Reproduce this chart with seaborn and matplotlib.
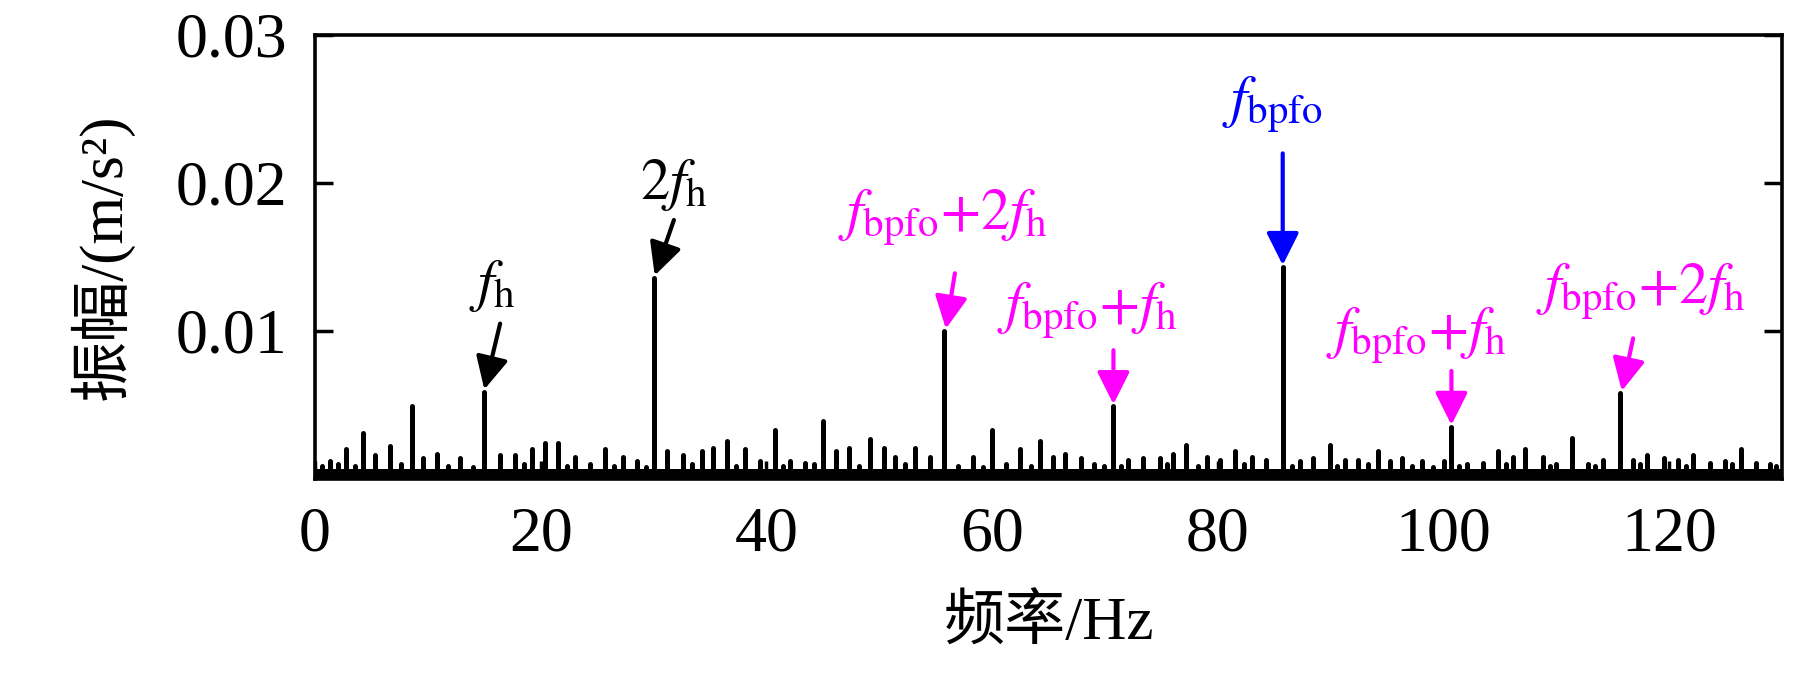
import numpy as np
import pandas as pd
import matplotlib
matplotlib.use("Agg")
import matplotlib.pyplot as plt
import seaborn as sns

# ---------------- data ----------------
major_freq = [15.0, 30.0, 55.75, 70.75, 85.75, 100.7, 115.65]
major_amp = [0.0059, 0.0136, 0.0100, 0.0049, 0.0143, 0.0035, 0.0058]

minor_freq = [1.3, 2.7, 4.25, 5.3, 6.6, 8.6, 9.6, 10.8, 12.85, 16.4, 17.7, 19.2,
              20.4, 21.5, 23.0, 25.7, 27.3, 28.5, 31.2, 32.6, 34.3, 35.3, 36.5,
              38.1, 39.4, 40.8, 42.1, 43.4, 45.0, 46.2, 47.3, 49.2, 50.4, 51.4,
              53.2, 54.5, 58.3, 60.0, 62.5, 64.2, 65.4, 66.5, 67.9, 72.0, 73.4,
              74.9, 76.0, 77.2, 79.0, 80.2, 81.5, 83.0, 84.3, 87.3, 88.4, 89.9,
              91.3, 92.4, 94.2, 95.3, 96.3, 98.1, 100.0, 102.1, 103.5, 104.8,
              106.2, 107.2, 108.8, 110.0, 111.4, 112.8, 114.1, 116.8, 118.0,
              119.5, 120.8, 122.1, 123.6, 124.9, 126.4, 127.7, 128.9]
minor_amp = [0.0012, 0.0020, 0.0031, 0.0016, 0.0022, 0.0049, 0.0014, 0.0017, 0.0014,
             0.0016, 0.0016, 0.0020, 0.0024, 0.0024, 0.0015, 0.0020, 0.0015, 0.0012,
             0.0019, 0.0016, 0.0019, 0.0021, 0.0026, 0.0020, 0.0012, 0.0033, 0.0012,
             0.0011, 0.0039, 0.0019, 0.0021, 0.0027, 0.0021, 0.0015, 0.0021, 0.0015,
             0.0015, 0.0033, 0.0020, 0.0026, 0.0015, 0.0017, 0.0014, 0.0013, 0.0014,
             0.0014, 0.0017, 0.0023, 0.0015, 0.0013, 0.0019, 0.0015, 0.0013, 0.0012,
             0.0014, 0.0023, 0.0013, 0.0013, 0.0019, 0.0012, 0.0014, 0.0012, 0.0012,
             0.0010, 0.0011, 0.0019, 0.0015, 0.0020, 0.0015, 0.0010, 0.0028, 0.0010,
             0.0013, 0.0013, 0.0016, 0.0014, 0.0013, 0.0016, 0.0011, 0.0012, 0.0020,
             0.0011, 0.0010]

tiny_freq = [0.6, 2.0, 3.5, 7.6, 11.8, 14.0, 18.5, 22.3, 24.4, 26.5, 29.3, 33.4,
             37.3, 41.5, 44.2, 48.2, 52.3, 57.0, 59.2, 61.2, 63.4, 69.0, 69.9,
             71.4, 75.5, 78.2, 82.3, 86.6, 90.6, 93.3, 97.2, 99.1, 101.4, 105.5,
             109.4, 113.4, 117.4, 121.5, 125.6, 129.5]
tiny_amp = [0.0009, 0.0010, 0.0009, 0.0010, 0.0009, 0.0008, 0.0010, 0.0009, 0.0010,
            0.0009, 0.0008, 0.0010, 0.0009, 0.0009, 0.0010, 0.0009, 0.0010, 0.0009,
            0.0008, 0.0010, 0.0009, 0.0010, 0.0009, 0.0009, 0.0010, 0.0009, 0.0010,
            0.0009, 0.0009, 0.0010, 0.0009, 0.0008, 0.0009, 0.0010, 0.0009, 0.0009,
            0.0010, 0.0009, 0.0010, 0.0009]

noise_floor = 0.00065
freq_range = [0.0, 130.0]

x_ticks = [0, 20, 40, 60, 80, 100, 120]
x_ticklabels = ["0", "20", "40", "60", "80", "100", "120"]
y_ticks = [0.01, 0.02, 0.03]
y_ticklabels = ["0.01", "0.02", "0.03"]

peak_labels = [r"$f_{\mathrm{h}}$", r"$2f_{\mathrm{h}}$",
               r"$f_{\mathrm{bpfo}}{+}2f_{\mathrm{h}}$",
               r"$f_{\mathrm{bpfo}}{+}f_{\mathrm{h}}$",
               r"$f_{\mathrm{bpfo}}$",
               r"$f_{\mathrm{bpfo}}{+}f_{\mathrm{h}}$",
               r"$f_{\mathrm{bpfo}}{+}2f_{\mathrm{h}}$"]
label_colors = ["black", "black", "#FF00FF", "#FF00FF", "#0000FF", "#FF00FF", "#FF00FF"]

# annotation layout (label centre, arrow tail, arrow tip offset in x)
label_pos = [(15.75, 0.0131), (31.8, 0.0199), (55.6, 0.0177), (68.4, 0.0114),
             (84.85, 0.0253), (97.55, 0.0097), (117.5, 0.0127)]
arrow_tail = [(16.4, 0.0105), (31.8, 0.0175), (56.7, 0.0139), (70.75, 0.0087),
              (85.75, 0.0220), (100.7, 0.0073), (116.8, 0.0095)]
tip_dx = [0.0, 0.1, 0.15, 0.0, 0.0, 0.0, 0.15]
tip_gap = 0.00015

# ---------------- build stem table ----------------
all_f = major_freq + minor_freq + tiny_freq
all_a = major_amp + minor_amp + tiny_amp
rows = []
for i, (f, a) in enumerate(zip(all_f, all_a)):
    rows.append({"freq": f, "amp": 0.0, "unit": i})
    rows.append({"freq": f, "amp": a, "unit": i})
stems = pd.DataFrame(rows)

# ---------------- style ----------------
sns.set_theme(style="ticks")
plt.rcParams["font.family"] = ["Liberation Serif", "Noto Sans CJK SC"]
plt.rcParams["mathtext.fontset"] = "stix"
plt.rcParams["axes.linewidth"] = 2.5

fig = plt.figure(figsize=(18.19, 6.78), dpi=100)
fig.patch.set_facecolor("white")
ax = fig.add_axes([0.1732, 0.2935, 0.9797 - 0.1732, 0.9484 - 0.2935])
ax.set_facecolor("white")

ax.fill_between(freq_range, 0, noise_floor, color="black", lw=0)
sns.lineplot(data=stems, x="freq", y="amp", units="unit", estimator=None,
             color="black", lw=3.6, ax=ax, sort=False, legend=False)

ax.set_xlim(freq_range)
ax.set_ylim(0, 0.03)
ax.set_xticks(x_ticks)
ax.set_xticklabels(x_ticklabels)
ax.set_yticks(y_ticks)
ax.set_yticklabels(y_ticklabels)

ax.tick_params(axis="both", which="major", direction="in", length=13, width=2.5,
               labelsize=46, pad=20, colors="black")
ax.tick_params(axis="y", right=True)
for s in ax.spines.values():
    s.set_visible(True)
    s.set_color("black")
    s.set_linewidth(2.6)

ax.set_xlabel("频率/Hz", fontsize=44, labelpad=22, color="black")
ax.set_ylabel("振幅/(m/s²)", fontsize=44, labelpad=30, color="black")

# ---------------- annotations ----------------
for lab, col, (lx, ly), (tx, ty), dx, f, a in zip(peak_labels, label_colors, label_pos,
                                                   arrow_tail, tip_dx, major_freq, major_amp):
    ax.text(lx, ly, lab, color=col, fontsize=42, ha="center", va="center")
    ax.annotate("", xy=(f + dx, a + tip_gap), xytext=(tx, ty),
                arrowprops=dict(arrowstyle="-|>,head_length=0.9,head_width=0.45",
                                mutation_scale=22, color=col, lw=3.0,
                                shrinkA=0, shrinkB=0))

fig.savefig("out.png", dpi=100, facecolor="white")
